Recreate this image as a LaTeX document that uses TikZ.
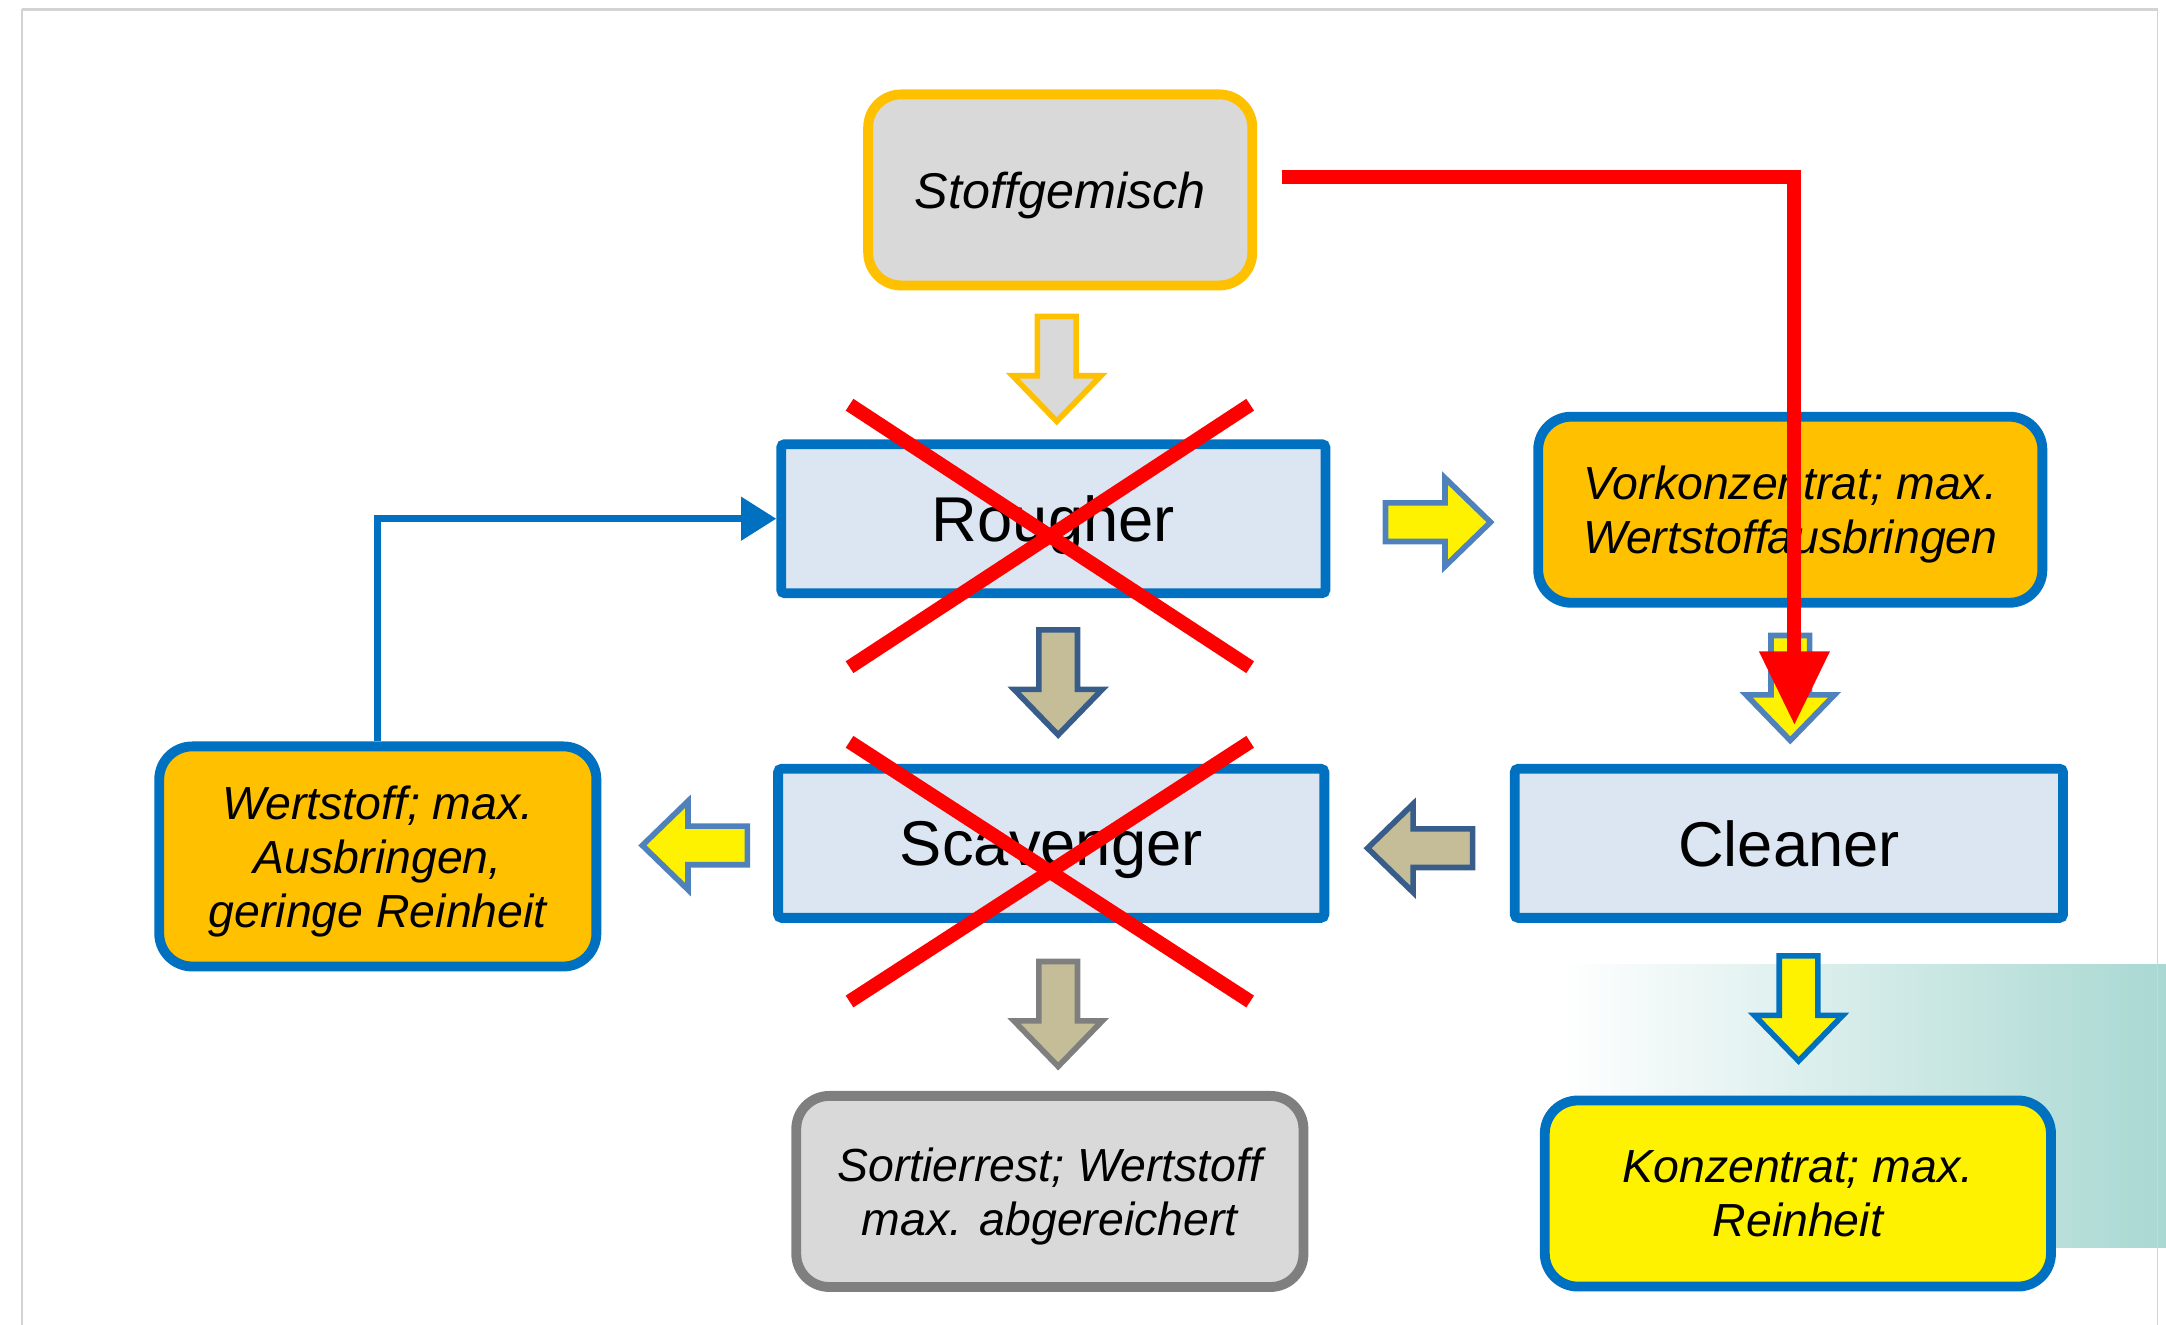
\documentclass[tikz,border=0pt]{standalone}
\usepackage{fontspec}
\setmainfont{Liberation Sans}
\usetikzlibrary{arrows.meta}

\definecolor{boxblue}{HTML}{0070C0}
\definecolor{boxfill}{HTML}{DCE6F2}
\definecolor{boxorange}{HTML}{FFC000}
\definecolor{boxgray}{HTML}{D9D9D9}
\definecolor{darkgray}{HTML}{7F7F7F}
\definecolor{arrowblue}{HTML}{4F81BD}
\definecolor{arrowdark}{HTML}{385D8A}
\definecolor{arrowtan}{HTML}{C4BD97}
\definecolor{framegray}{HTML}{D3D3D3}
\definecolor{gradteal}{HTML}{A9D8D2}

\tikzset{
  unitbox/.style={draw=boxblue, fill=boxfill, line width=2.8pt, rounded corners=1pt,
    minimum height=1.49cm, text depth=0pt, font=\fontsize{18}{21}\selectfont},
  streambox/.style={line width=2.8pt, rounded corners=0.33cm, align=center, text depth=0pt,
    font=\fontsize{13.2}{15.3}\selectfont\itshape},
  flowline/.style={line width=1.6pt},
  pics/flowarrow/.style={code={
    \draw [pic actions] (0,-14) -- (43,-14) -- (43,-32) -- (76,0) -- (43,32) -- (43,14) -- (0,14) -- cycle;
  }},
  crossline/.style={red, line width=4pt},
}

\begin{document}
\begin{tikzpicture}[x=0.013814cm, y=-0.013814cm]
  \useasboundingbox (0,0) rectangle (1568,959);

  % background shading behind the concentrate
  \shade [left color=white, right color=gradteal] (1130,698) rectangle (1568,903);
  \draw [framegray, line width=0.4pt] (16,959) -- (16,7) -- (1562,7) -- (1562,959);
  \draw [framegray, line width=1pt] (16,7) -- (1562,7);

  % stream boxes
  \node [streambox, draw=boxorange, fill=boxgray, minimum width=3.84cm, minimum height=1.91cm,
    font=\fontsize{14.3}{16}\selectfont\itshape] (stoff) at (767.5,137.5) {Stoffgemisch};
  \node [streambox, draw=boxblue, fill=boxorange, minimum width=5.04cm, minimum height=1.86cm]
    (vork) at (1296,369) {Vorkonzentrat; max.\\Wertstoffausbringen};
  \node [streambox, draw=boxblue, fill=boxorange, minimum width=4.37cm, minimum height=2.2cm]
    (wert) at (273.5,620) {Wertstoff; max.\\Ausbringen,\\geringe Reinheit};
  \node [streambox, draw=darkgray, fill=boxgray, minimum width=5.07cm, minimum height=1.91cm]
    (sort) at (760,862.5) {Sortierrest; Wertstoff\\max. abgereichert};
  \node [streambox, draw=boxblue, fill=yellow, minimum width=5.06cm, minimum height=1.86cm]
    (konz) at (1301.5,864) {Konzentrat; max.\\Reinheit};

  % units
  \node [unitbox, minimum width=5.44cm] (rougher) at (762.5,375.5) {Rougher};
  \node [unitbox, minimum width=5.46cm] (scav) at (761,610.5) {Scavenger};
  \node [unitbox, minimum width=5.48cm] (clean) at (1295,610.5) {Cleaner};

  % block arrows
  \pic [flowline, draw=boxorange, fill=boxgray, rotate=-90] at (765,229) {flowarrow};
  \pic [flowline, draw=arrowblue, fill=yellow] at (1003,378) {flowarrow};
  \pic [flowline, draw=arrowdark, fill=arrowtan, rotate=-90] at (766,456) {flowarrow};
  \pic [flowline, draw=arrowblue, fill=yellow, rotate=-90] at (1296,460) {flowarrow};
  \pic [flowline, draw=arrowblue, fill=yellow, rotate=180] at (541,612) {flowarrow};
  \pic [flowline, draw=arrowdark, fill=arrowtan, rotate=180] at (1066,614) {flowarrow};
  \pic [flowline, draw=darkgray, fill=arrowtan, rotate=-90] at (766,696) {flowarrow};
  \pic [flowline, draw=boxblue, fill=yellow, rotate=-90] at (1302,692) {flowarrow};

  % recycle of the scavenger concentrate
  \draw [boxblue, line width=2pt, -{Triangle[length=10pt, width=12pt]}] (wert.north) |- (rougher.west);

  % crossed out units
  \draw [crossline] (615,293) -- (905,483);
  \draw [crossline] (615,483) -- (905,293);
  \draw [crossline] (615,537) -- (905,725);
  \draw [crossline] (615,725) -- (905,537);

  % bypass
  \coordinate (redstart) at (928,128);
  \coordinate (redend) at (1299,525);
  \draw [crossline, -{Triangle[length=21pt, width=19pt]}] (redstart) -| (redend);
\end{tikzpicture}
\end{document}
